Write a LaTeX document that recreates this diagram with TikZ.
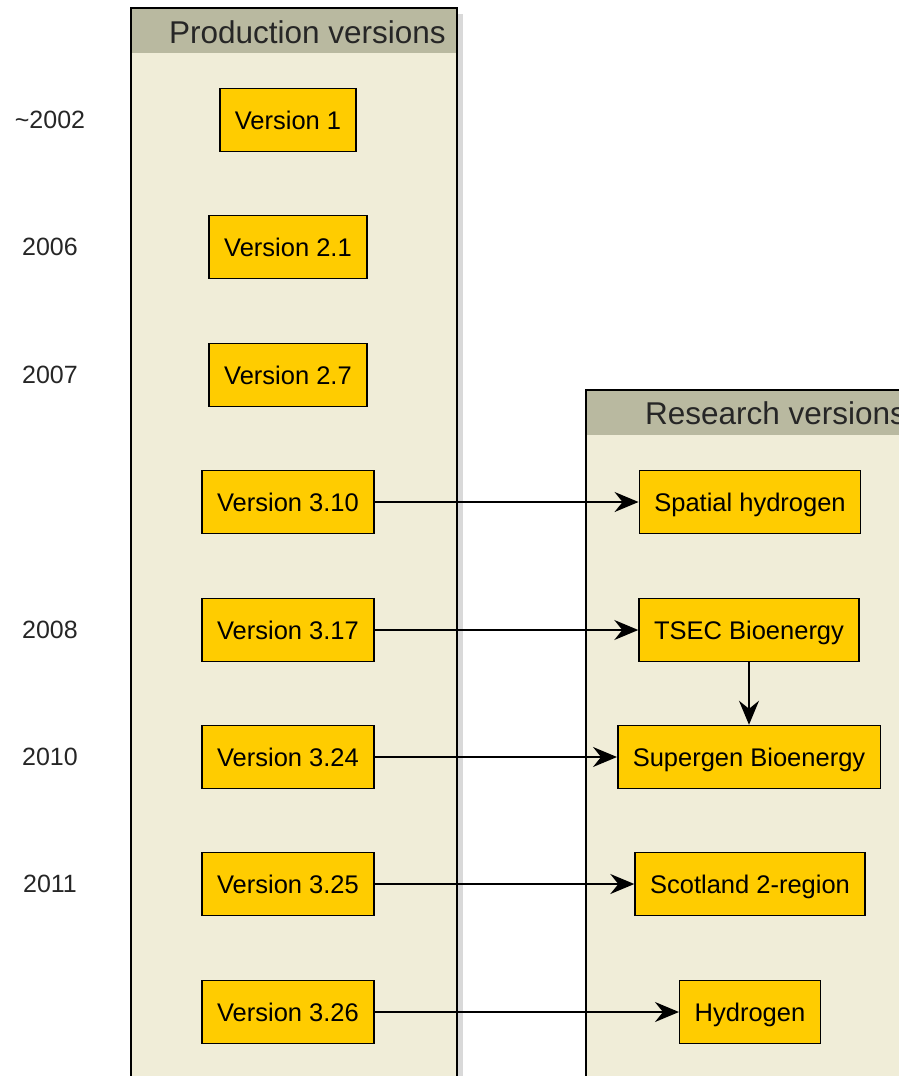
\documentclass[tikz,border=0pt]{standalone}
\usepackage{fontspec}
\setmainfont{Liberation Sans}
\usetikzlibrary{arrows.meta}

\definecolor{laneback}{RGB}{240,237,216}
\definecolor{lanehead}{RGB}{185,185,160}
\definecolor{boxfill}{RGB}{255,204,0}

\tikzstyle{version}=[draw,line width=1.5pt,fill=boxfill,minimum height=63pt,inner xsep=15pt,text height=18pt,text depth=0pt,font=\fontsize{25.5}{30}\selectfont]
\tikzstyle{link} = [draw,line width=1.6pt,-{Stealth[length=24pt,width=20pt,inset=8pt]}]
\tikzstyle{year} = [font=\fontsize{25}{30}\selectfont,text=black!85]
\tikzstyle{lanetitle} = [font=\fontsize{31.5}{34}\selectfont,text=black!85,inner sep=0pt]
\newcommand{\pxunit}{1pt}

\begin{document}
\begin{tikzpicture}[x=\pxunit, y=-\pxunit]
    \useasboundingbox (0,0) rectangle (899,1076);
    \clip (0,0) rectangle (899,1076);
    % First we draw the two lanes
    \fill[black!15] (457,14) rectangle (463,1090);
    \fill[laneback] (131,8) rectangle (457,1090);
    \fill[lanehead] (131,8) rectangle (457,53);
    \draw[line width=1.5pt] (131,8) rectangle (457,1090);
    \node[lanetitle, anchor=east] (prodtitle) at (446,32) {Production versions};
    \fill[laneback] (586,390) rectangle (960,1090);
    \fill[lanehead] (586,390) rectangle (960,435);
    \draw[line width=1.5pt] (586,390) rectangle (960,1090);
    \node[lanetitle, anchor=west] (restitle) at (645,413) {Research versions};
    % Years
    \foreach \pos/\name/\txt in {{(50,120)/y2002/\char`\~2002}, {(50,247)/y2006/2006},
        {(50,375)/y2007/2007}, {(50,630)/y2008/2008}, {(50,757)/y2010/2010}, {(50,884)/y2011/2011}}
        \node[year] (\name) at \pos {\txt};
    % Production versions
    \foreach \pos/\name/\txt in {{(288,120)/v1/Version 1}, {(288,247)/v21/Version 2.1},
        {(288,375)/v27/Version 2.7}, {(288,502)/v310/Version 3.10}, {(288,630)/v317/Version 3.17},
        {(288,757)/v324/Version 3.24}, {(288,884)/v325/Version 3.25}, {(288,1012)/v326/Version 3.26}}
        \node[version] (\name) at \pos {\txt};
    % Research versions
    \foreach \pos/\name/\txt in {{(750,502)/sh/Spatial hydrogen}, {(749,630)/tsec/TSEC Bioenergy},
        {(749,757)/sg/Supergen Bioenergy}, {(750,884)/sc/Scotland 2-region}, {(750,1012)/hy/Hydrogen}}
        \node[version] (\name) at \pos {\txt};
    % Connect them
    \foreach \source/ \dest in {v310/sh, v317/tsec, v324/sg, v325/sc, v326/hy, tsec/sg}
        \path[link] (\source) -- (\dest);
\end{tikzpicture}
\end{document}
